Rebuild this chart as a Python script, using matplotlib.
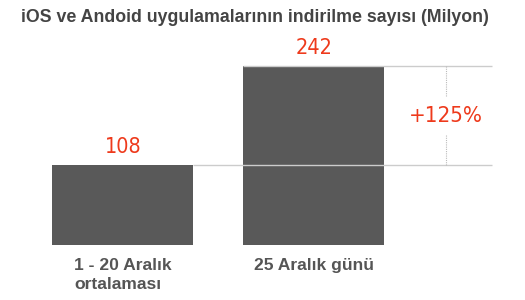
import matplotlib.pyplot as plt

# data
categories = ["1 - 20 Aralık\nortalaması", "25 Aralık günü"]
downloads = [108, 242]
change_label = "+125%"
title = "iOS ve Andoid uygulamalarının indirilme sayısı (Milyon)"

bar_color = "#595959"
red = "#ee3a1c"
text_gray = "#555555"
line_gray = "#cccccc"

fig = plt.figure(figsize=(5.25, 3), dpi=100)
ax = fig.add_axes([20 / 525, 55 / 300, 480 / 525, 250 * 0.7397 / 300])
ax.set_xlim(-0.539, 1.974)
ax.set_ylim(0, 250)
ax.axis("off")

width = 0.738
xs = list(range(len(downloads)))
ax.bar(xs, downloads, width=width, color=bar_color, zorder=1)

# value labels
for x, v in zip(xs, downloads):
    ax.annotate(str(v), (x, v), xytext=(0, 6), textcoords="offset points",
                ha="center", va="bottom", color=red, fontsize=15.5,
                family="DejaVu Sans", fontstretch="condensed")

# reference lines
right_end = 1.932
ax.hlines(downloads[0], xs[0] + width / 2, right_end, color=line_gray, lw=1, zorder=2)
ax.hlines(downloads[1], xs[1] - width / 2, right_end, color=line_gray, lw=1, zorder=2)

# dotted vertical connector with gap for the percentage
vx = 1.691
mid = (downloads[0] + downloads[1]) / 2
gap = 26
ax.vlines(vx, downloads[0], mid - gap, color="#bbbbbb", lw=0.8, linestyles=(0, (1, 1)))
ax.vlines(vx, mid + gap, downloads[1], color="#bbbbbb", lw=0.8, linestyles=(0, (1, 1)))
ax.text(vx, mid, change_label, ha="center", va="center", color=red,
        fontsize=16, family="DejaVu Sans", fontstretch="condensed")

# category labels
for x, lab in zip(xs, categories):
    ax.text(x, -18, lab, ha="center", va="top", multialignment="left",
            color=text_gray, fontsize=12.6, fontweight="bold",
            family="Liberation Sans", linespacing=1.3, clip_on=False)

fig.text(255 / 525, 1 - 17 / 300, title, ha="center", va="center",
         color="#444444", fontsize=12.75, fontweight="bold", family="Liberation Sans")

fig.savefig("out.png", dpi=100)
